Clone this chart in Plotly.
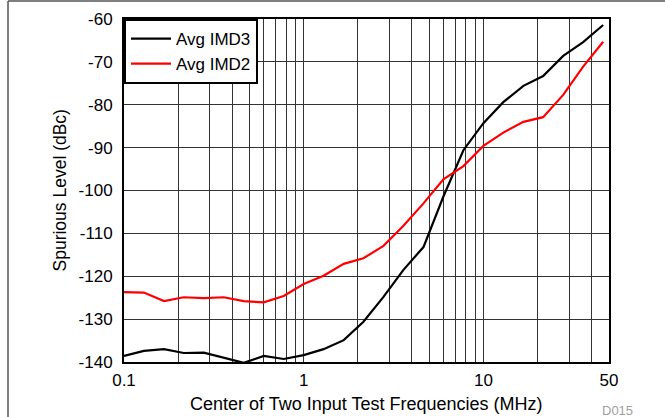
import plotly.graph_objects as go

# Frequencies (MHz)
freq = [0.1, 0.129, 0.167, 0.215, 0.278, 0.359, 0.464, 0.599, 0.774, 1.0,
        1.29, 1.67, 2.15, 2.78, 3.59, 4.64, 5.99, 7.74, 10.0, 12.9,
        16.7, 21.5, 27.8, 35.9, 46.4]

imd3 = [-138.6, -137.4, -137.0, -137.9, -137.8, -139.0, -140.2, -138.6, -139.3, -138.4,
        -137.0, -134.9, -130.6, -124.8, -118.5, -113.2, -101.4, -90.6, -84.3, -79.4,
        -75.6, -73.3, -68.6, -65.4, -61.4]

imd2 = [-123.7, -123.8, -125.8, -124.9, -125.1, -124.9, -125.8, -126.1, -124.6, -121.8,
        -119.9, -117.1, -115.8, -112.9, -108.2, -103.0, -97.4, -94.3, -89.6, -86.5,
        -84.0, -82.9, -77.7, -71.1, -65.3]

x_grid = [0.1, 0.2, 0.3, 0.4, 0.5, 0.6, 0.7, 0.8, 0.9,
          1, 2, 3, 4, 5, 6, 7, 8, 9, 10, 20, 30, 40, 50]
x_labels = {0.1: "0.1", 1: "1", 10: "10", 50: "50"}
y_ticks = [-140, -130, -120, -110, -100, -90, -80, -70, -60]
y_labels = ["-140", "-130", "-120", "-110", "-100", "-90", "-80", "-70", "-60"]

FONT = "Liberation Sans, Arial, sans-serif"

fig = go.Figure()
fig.add_trace(go.Scatter(x=freq, y=imd3, mode="lines", name="Avg IMD3",
                         line=dict(color="#000000", width=2.2)))
fig.add_trace(go.Scatter(x=freq, y=imd2, mode="lines", name="Avg IMD2",
                         line=dict(color="#ff0000", width=2.2)))

fig.update_layout(
    width=665, height=417,
    margin=dict(l=124, r=56, t=19, b=55, autoexpand=False),
    paper_bgcolor="white", plot_bgcolor="white",
    font=dict(family=FONT, color="#000000", size=17),
    showlegend=True,
    legend=dict(x=0, y=1, xanchor="left", yanchor="top",
                bgcolor="white", bordercolor="#000000", borderwidth=2,
                font=dict(size=17, family=FONT), itemwidth=40,
                tracegroupgap=0),
    xaxis=dict(
        type="log", range=[-1, 1.69897],
        tickvals=x_grid,
        ticktext=[x_labels.get(v, "") for v in x_grid],
        tickfont=dict(size=17), automargin=False,
        showgrid=True, gridcolor="#333333", gridwidth=1,
        showline=True, linecolor="#000000", linewidth=2, mirror=True,
        ticks="", zeroline=False, ticklabelstandoff=2,
    ),
    yaxis=dict(
        range=[-140, -60], tickvals=y_ticks, ticktext=y_labels,
        tickfont=dict(size=17), automargin=False,
        showgrid=True, gridcolor="#333333", gridwidth=1,
        showline=True, linecolor="#000000", linewidth=2, mirror=True,
        ticks="", zeroline=False, ticklabelstandoff=6,
    ),
)

# axis titles as annotations placed like the reference
fig.add_annotation(text="Center of Two Input Test Frequencies (MHz)",
                   xref="paper", yref="paper",
                   x=0.5, y=-(404 - 362) / 343,
                   xanchor="center", yanchor="middle", showarrow=False,
                   font=dict(size=18, family=FONT, color="#000000"))
fig.add_annotation(text="Spurious Level (dBc)", textangle=-90,
                   xref="paper", yref="paper",
                   x=(59 - 124) / 485, y=0.5,
                   xanchor="center", yanchor="middle", showarrow=False,
                   font=dict(size=17.5, family=FONT, color="#000000"))

# outer frame (top and left edges)
fig.add_shape(type="line", xref="paper", yref="paper",
              x0=(8 - 124) / 485, x1=(665 - 124) / 485,
              y0=1 + 18 / 343, y1=1 + 18 / 343,
              line=dict(color="#555555", width=1.5))
fig.add_shape(type="line", xref="paper", yref="paper",
              x0=(8 - 124) / 485, x1=(8 - 124) / 485,
              y0=1 + 18 / 343, y1=-(417 - 362) / 343,
              line=dict(color="#555555", width=1.5))

fig.add_annotation(text="D015", xref="paper", yref="paper",
                   x=(635 - 124) / 485, y=-(410 - 362) / 343,
                   xanchor="right", yanchor="middle", showarrow=False,
                   font=dict(size=13, color="#a0a0a0", family=FONT))

fig.write_html("out.html")
